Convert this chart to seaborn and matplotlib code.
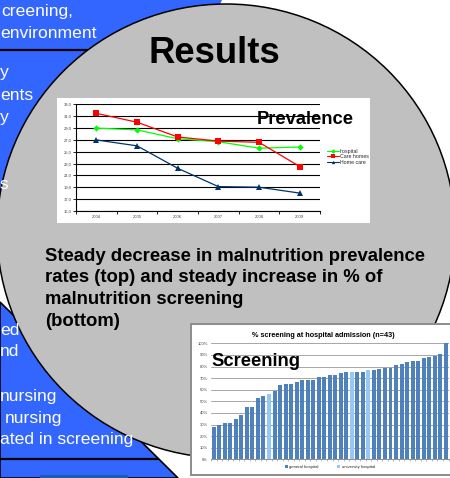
import numpy as np
import pandas as pd
import matplotlib
matplotlib.use("Agg")
import matplotlib.pyplot as plt
from matplotlib.patches import Polygon, Ellipse, Rectangle, Patch
from matplotlib.lines import Line2D
import seaborn as sns

# Malnutrition prevalence (%) per year and care setting
years = [2004, 2005, 2006, 2007, 2008, 2009]
hospital = [29.0, 28.7, 27.2, 26.7, 25.6, 25.8]
care_homes = [31.5, 30.0, 27.5, 26.8, 26.6, 22.5]
home_care = [27.0, 26.0, 22.2, 19.1, 19.0, 18.0]
settings = ["hospital", "Care homes", "Home care"]
prev_ticks = [15, 17, 19, 21, 23, 25, 27, 29, 31, 33]

# % screening at hospital admission, one bar per hospital (n=43)
screening_pct = [28, 30, 31, 31, 35, 38, 45, 45, 53, 55, 56, 59, 64, 65, 65,
                 67, 68, 68, 68, 71, 71, 73, 73, 74, 75, 75, 75, 75, 77, 77,
                 78, 79, 79, 81, 82, 84, 85, 85, 87, 88, 89, 91, 100]
university_idx = [10, 25, 28]
hospital_types = ["general hospital", "university hospital"]
scr_ticks = [0, 10, 20, 30, 40, 50, 60, 70, 80, 90, 100]

W, H = 450, 478
SLIDE_BLUE = "#3366FF"
GREY = "#C0C0C0"
FONT = ["Liberation Sans", "DejaVu Sans"]

sns.set_style("white")
plt.rcParams["font.family"] = FONT


def fig_rect(x0, y0, x1, y1):
    """Pixel box (top-left origin) -> figure fraction [l, b, w, h]."""
    return [x0 / W, 1 - y1 / H, (x1 - x0) / W, (y1 - y0) / H]


fig = plt.figure(figsize=(W / 100, H / 100), dpi=100)
fig.patch.set_facecolor("white")

# ---------- slide background shapes ----------
bg = fig.add_axes([0, 0, 1, 1])
bg.set_xlim(0, W)
bg.set_ylim(H, 0)
bg.axis("off")

bg.add_patch(Polygon([(0, 0), (222, 0), (120, 235), (0, 235)], closed=True,
                     facecolor=SLIDE_BLUE, edgecolor="none", zorder=1))
bg.add_patch(Polygon([(0, 302), (178, 478), (0, 478)], closed=True,
                     facecolor=SLIDE_BLUE, edgecolor="black", lw=1.2, zorder=1))
bg.plot([0, 110], [50, 50], color="black", lw=1.6, zorder=2)
bg.plot([0, 158], [459, 459], color="black", lw=1.6, zorder=2)
bg.add_patch(Rectangle((40, 474.5), 88, 4, facecolor="#1d5cb0",
                       edgecolor="none", zorder=2))

bg.add_patch(Ellipse((226, 231), 458, 454, facecolor=GREY,
                     edgecolor="black", lw=1.1, zorder=3))

# white panel behind the prevalence chart
bg.add_patch(Rectangle((57, 98), 313, 125, facecolor="white",
                       edgecolor="none", zorder=4))
# framed panel behind the screening chart
bg.add_patch(Rectangle((191, 324), 262, 151, facecolor="white",
                       edgecolor="#8c8c8c", lw=1.4, zorder=4))

# ---------- prevalence line chart ----------
df_prev = pd.DataFrame({
    "year": years * 3,
    "setting": np.repeat(settings, len(years)),
    "value": hospital + care_homes + home_care,
})
line_colors = {"hospital": "#00FF00", "Care homes": "#FF0000", "Home care": "#003366"}
line_markers = {"hospital": "D", "Care homes": "s", "Home care": "^"}
marker_sizes = {"hospital": 3.2, "Care homes": 4.0, "Home care": 4.2}

ax_p = fig.add_axes(fig_rect(76, 104.3, 320, 211))
ax_p.set_facecolor("white")
sns.lineplot(data=df_prev, x="year", y="value", hue="setting", style="setting",
             palette=line_colors, markers=line_markers, dashes=False,
             lw=0.9, markersize=4, markeredgewidth=0, legend=False, ax=ax_p)
for ln, s in zip(ax_p.lines, settings):
    ln.set_markersize(marker_sizes[s])

ax_p.set_xlim(2003.5, 2009.5)
ax_p.set_ylim(14.97, 33.03)
ax_p.set_yticks(prev_ticks)
ax_p.set_yticklabels([f"{v:.1f}".replace(".", ",") for v in prev_ticks])
ax_p.yaxis.grid(True, color="black", lw=0.8)
ax_p.xaxis.grid(False)
ax_p.set_xticks(np.arange(2003.5, 2010, 1))
ax_p.set_xticklabels([])
ax_p.set_xticks(years, minor=True)
ax_p.set_xticklabels([str(y) for y in years], minor=True)
ax_p.tick_params(axis="x", which="major", length=2.5, width=0.6, color="black",
                 direction="out", bottom=True)
ax_p.tick_params(axis="x", which="minor", length=0, pad=2.6, labelsize=3,
                 labelcolor="#404040")
ax_p.tick_params(axis="y", length=2.5, width=0.6, color="black", direction="out",
                 left=True, pad=0.8, labelsize=3, labelcolor="#404040")
ax_p.set_xlabel("")
ax_p.set_ylabel("")
for side in ("top", "right"):
    ax_p.spines[side].set_visible(False)
for side in ("left", "bottom"):
    ax_p.spines[side].set_color("black")
    ax_p.spines[side].set_linewidth(0.8)

prev_handles = [Line2D([0], [0], color=line_colors[s], lw=0.8,
                       marker=line_markers[s], markersize=2.4,
                       markeredgewidth=0) for s in settings]
ax_p.legend(prev_handles, settings, loc="center left",
            bbox_to_anchor=(1.03, 0.51), frameon=False, fontsize=3.8,
            handlelength=2.2, handletextpad=0.2, labelspacing=0.1,
            borderpad=0, borderaxespad=0)

# ---------- screening bar chart ----------
types = [hospital_types[1] if i in university_idx else hospital_types[0]
         for i in range(len(screening_pct))]
df_scr = pd.DataFrame({
    "hospital": np.arange(len(screening_pct)),
    "pct": screening_pct,
    "type": types,
})
bar_colors = {"general hospital": "#4F81BD", "university hospital": "#95C8F5"}

ax_s = fig.add_axes(fig_rect(211, 343.3, 448.5, 459.3))
ax_s.set_facecolor("none")
sns.barplot(data=df_scr, x="hospital", y="pct", hue="type", palette=bar_colors,
            dodge=False, width=0.72, saturation=1, linewidth=0, legend=False,
            ax=ax_s)
ax_s.set_xlim(-0.5, len(screening_pct) - 0.5)
ax_s.set_ylim(0, 100)
ax_s.set_yticks(scr_ticks)
ax_s.set_yticklabels([f"{v}%" for v in scr_ticks])
ax_s.yaxis.grid(True, color="#A6A6A6", lw=0.7)
ax_s.set_axisbelow(True)
ax_s.set_xticks(np.arange(-0.5, len(screening_pct), 1))
ax_s.set_xticklabels([])
ax_s.tick_params(axis="x", length=1.5, width=0.4, color="#808080",
                 direction="out", bottom=True)
ax_s.tick_params(axis="y", length=0, pad=2.2, labelsize=3, labelcolor="#404040")
ax_s.set_xlabel("")
ax_s.set_ylabel("")
for side in ("top", "right", "left"):
    ax_s.spines[side].set_visible(False)
ax_s.spines["bottom"].set_color("#808080")
ax_s.spines["bottom"].set_linewidth(0.6)

scr_handles = [Patch(facecolor=bar_colors[t], edgecolor="none") for t in hospital_types]
ax_s.legend(scr_handles, hospital_types, loc="center", ncol=2,
            bbox_to_anchor=(0.5, -0.066), frameon=False, fontsize=3.1,
            handlelength=0.8, handleheight=0.8, handletextpad=0.3,
            columnspacing=4.2, borderpad=0, borderaxespad=0)

# ---------- slide text (on top of everything) ----------
top = fig.add_axes([0, 0, 1, 1])
top.set_xlim(0, W)
top.set_ylim(H, 0)
top.axis("off")
top.patch.set_alpha(0)

white_lines = [
    (1, 16, "creening,"), (0, 37.5, "environment"),
    (0, 77, "y"), (0, 99.5, "ents"), (0, 122, "y"), (0, 189, "s"),
    (0, 335, "ed"), (0, 356.5, "nd"),
    (0, 401, "nursing"), (5, 422.5, "nursing"), (0, 444, "ated in screening"),
]
for x, y, s in white_lines:
    top.text(x, y, s, color="white", fontsize=12.6, ha="left", va="baseline")

top.text(214, 63, "Results", fontsize=26.3, fontweight="bold", ha="center",
         va="baseline", color="black")

summary = ["Steady decrease in malnutrition prevalence",
           "rates (top) and steady increase in % of",
           "malnutrition screening",
           "(bottom)"]
for i, s in enumerate(summary):
    top.text(45, 261 + 21.5 * i, s, fontsize=13.3, fontweight="bold",
             ha="left", va="baseline", color="black")

top.text(257, 124, "Prevalence", fontsize=13.2, fontweight="bold",
         ha="left", va="baseline", color="black")
top.text(211, 366, "Screening", fontsize=13.2, fontweight="bold",
         ha="left", va="baseline", color="black")
top.text(323, 337, "% screening at hospital admission (n=43)", fontsize=5.2,
         fontweight="bold", ha="center", va="baseline", color="black")

fig.savefig("out.png", dpi=100)
